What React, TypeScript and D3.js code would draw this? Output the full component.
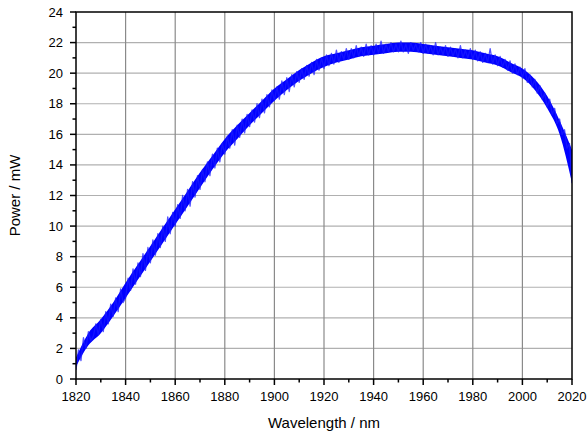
import React, { useEffect } from 'react';
import * as d3 from 'd3';

// Trace read at every nm from 1820 nm (power in mW)
const wlStart = 1820;
const power: number[] = [
  0.6, 1.9, 1.2, 2.7, 2.0, 3.1, 2.5, 2.8, 3.6, 2.9,
  3.9, 3.1, 4.4, 3.6, 4.9, 4.1, 5.3, 4.4, 5.9, 5.0,
  5.3, 6.6, 5.8, 7.2, 6.2, 7.6, 6.7, 8.2, 7.1, 8.6,
  7.6, 9.1, 8.1, 9.5, 8.6, 10.0, 9.0, 10.6, 9.5, 10.9,
  10.0, 11.4, 10.5, 12.0, 11.0, 12.4, 11.3, 12.9, 11.9, 13.3,
  12.4, 13.7, 12.9, 14.2, 13.3, 14.7, 13.8, 15.1, 14.2, 15.4,
  14.7, 15.9, 15.1, 16.3, 15.3, 16.6, 15.8, 17.0, 16.1, 17.3,
  16.5, 17.6, 16.8, 18.0, 17.1, 18.3, 17.4, 18.6, 17.8, 18.9,
  18.2, 19.1, 18.3, 19.5, 18.6, 19.7, 18.8, 19.9, 19.1, 20.1,
  19.4, 20.3, 19.6, 20.5, 19.8, 20.7, 19.9, 20.9, 20.2, 21.0,
  20.3, 21.2, 20.5, 21.3, 20.6, 21.5, 20.7, 21.4, 20.9, 21.6,
  20.9, 21.6, 21.0, 21.8, 21.1, 21.7, 21.1, 21.9, 21.2, 21.8,
  21.2, 21.9, 21.3, 22.1, 21.3, 21.9, 21.4, 22.0, 21.4, 21.9,
  21.4, 22.1, 21.4, 21.9, 21.3, 22.0, 21.5, 21.9, 21.4, 22.0,
  21.3, 21.9, 21.3, 21.8, 21.2, 22.0, 21.2, 21.7, 21.2, 21.8,
  21.1, 21.7, 21.1, 21.6, 21.0, 21.8, 21.0, 21.5, 21.0, 21.6,
  20.9, 21.5, 20.8, 21.4, 20.7, 21.3, 20.7, 21.6, 20.6, 21.2,
  20.5, 21.1, 20.4, 20.9, 20.2, 20.8, 20.0, 20.6, 19.9, 20.4,
  19.7, 20.3, 19.4, 19.9, 19.1, 19.6, 18.7, 19.2, 18.3, 18.7,
  17.8, 18.3, 17.3, 17.7, 16.7, 17.0, 16.0, 16.3, 15.1, 15.4,
  12.8,
];

// Dense noise band (every 5 nm): lower and upper edge of the solid trace
const bandWl = d3.range(1820, 2021, 5);
const bandLow = [
  0.8, 2.2, 3.0, 4.1, 5.3, 6.5, 7.7, 8.9, 10.1, 11.3,
  12.5, 13.7, 14.8, 15.7, 16.6, 17.4, 18.2, 18.9, 19.5, 20.0,
  20.4, 20.7, 20.9, 21.1, 21.2, 21.3, 21.4, 21.4, 21.3, 21.2,
  21.1, 21.0, 20.9, 20.7, 20.5, 20.1, 19.7, 18.9, 17.7, 16.0,
  12.8,
];
const bandHigh = [
  1.4, 3.0, 3.9, 5.0, 6.3, 7.5, 8.7, 9.9, 11.1, 12.3,
  13.5, 14.6, 15.7, 16.6, 17.4, 18.2, 19.0, 19.6, 20.2, 20.7,
  21.1, 21.3, 21.5, 21.7, 21.8, 21.9, 22.0, 22.0, 21.9, 21.8,
  21.7, 21.6, 21.5, 21.3, 21.1, 20.7, 20.3, 19.6, 18.5, 16.9,
  15.0,
];

const xMajor = [1820, 1840, 1860, 1880, 1900, 1920, 1940, 1960, 1980, 2000, 2020];
const yMajor = [0, 2, 4, 6, 8, 10, 12, 14, 16, 18, 20, 22, 24];

const W = 587;
const H = 439;
const margin = { top: 12, right: 15, bottom: 60, left: 76 };

export default function App() {
  useEffect(() => {
    document.body.style.margin = '0';
  }, []);

  const iw = W - margin.left - margin.right;
  const ih = H - margin.top - margin.bottom;
  const x = d3.scaleLinear().domain([1820, 2020]).range([0, iw]);
  const y = d3.scaleLinear().domain([0, 24]).range([ih, 0]);

  const pts = power.map((p, i) => [wlStart + i, p] as [number, number]);
  const line = d3.line<[number, number]>()
    .x((d) => x(d[0]))
    .y((d) => y(d[1]));

  const band = d3.area<number>()
    .x((d) => x(bandWl[d]))
    .y0((d) => y(bandLow[d]))
    .y1((d) => y(bandHigh[d]))
    .curve(d3.curveMonotoneX);

  const xMinor = d3.range(1830, 2020, 20);
  const yMinor = d3.range(1, 24, 2);
  const font = 'Arial, "Liberation Sans", sans-serif';

  return (
    <svg width={W} height={H} style={{ display: 'block', background: '#fff' }} fontFamily={font}>
      <defs>
        <clipPath id="plot">
          <rect x={0} y={0} width={iw} height={H} />
        </clipPath>
      </defs>
      <g transform={`translate(${margin.left},${margin.top})`}>
        {/* grid */}
        {yMajor.slice(1, -1).map((v) => (
          <line key={'gy' + v} x1={0} x2={iw} y1={y(v)} y2={y(v)} stroke="#b0b0b0" strokeWidth={1.2} />
        ))}
        {xMajor.slice(1, -1).map((v) => (
          <line key={'gx' + v} x1={x(v)} x2={x(v)} y1={0} y2={ih} stroke="#8a8a8a" strokeWidth={1.2} />
        ))}

        {/* data */}
        <g clipPath="url(#plot)">
          <path d={band(bandWl.map((_, i) => i)) ?? ''} fill="#0000ff" />
          <path d={line(pts) ?? ''} fill="none" stroke="#1a1aff" strokeOpacity={0.75} strokeWidth={1.3} strokeLinejoin="round" />
        </g>

        {/* frame */}
        <rect x={0} y={0} width={iw} height={ih} fill="none" stroke="#000" strokeWidth={1.5} />

        {/* x ticks */}
        {xMajor.map((v) => (
          <g key={'xt' + v} transform={`translate(${x(v)},${ih})`}>
            <line y1={0} y2={6} stroke="#000" strokeWidth={1.5} />
            <text y={22} textAnchor="middle" fontSize={13} fill="#000">{v}</text>
          </g>
        ))}
        {xMinor.map((v) => (
          <line key={'xm' + v} x1={x(v)} x2={x(v)} y1={ih} y2={ih + 3.5} stroke="#000" strokeWidth={1.5} />
        ))}

        {/* y ticks */}
        {yMajor.map((v) => (
          <g key={'yt' + v} transform={`translate(0,${y(v)})`}>
            <line x1={0} x2={-6} stroke="#000" strokeWidth={1.5} />
            <text x={-13} dy="0.35em" textAnchor="end" fontSize={13} fill="#000">{v}</text>
          </g>
        ))}
        {yMinor.map((v) => (
          <line key={'ym' + v} x1={0} x2={-3.5} y1={y(v)} y2={y(v)} stroke="#000" strokeWidth={1.5} />
        ))}

        {/* axis titles */}
        <text x={iw / 2} y={ih + 49} textAnchor="middle" fontSize={15} fill="#000">Wavelength / nm</text>
        <text transform={`translate(${-56},${ih / 2}) rotate(-90)`} textAnchor="middle" fontSize={15} fill="#000">Power / mW</text>
      </g>
    </svg>
  );
}
